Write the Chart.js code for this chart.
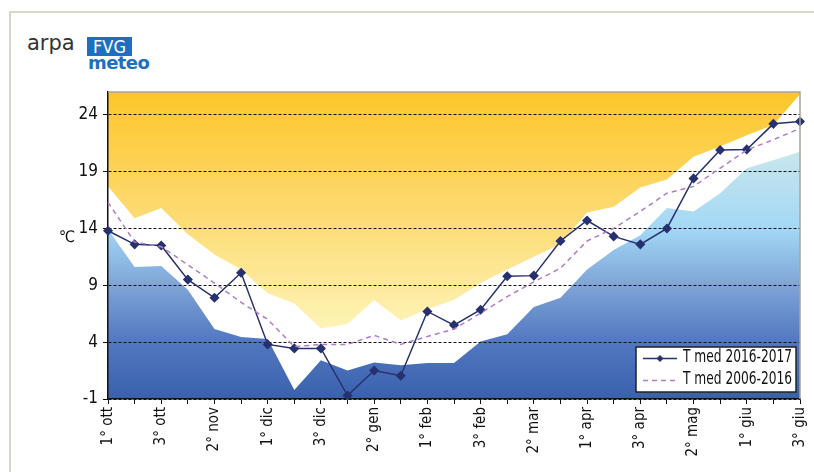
<!DOCTYPE html>
<html>
<head>
<meta charset="utf-8">
<script src="https://cdn.jsdelivr.net/npm/chart.js@4.4.1/dist/chart.umd.min.js"></script>
<style>
    html, body { margin: 0; padding: 0; background: #fff; }
    #wrap { position: relative; width: 814px; height: 472px; overflow: hidden; }
    #frame { position: absolute; left: 9px; top: 11px; right: -5px; bottom: -5px; border-left: 2px solid #dcd6c8; border-top: 2px solid #dcd6c8; }
    #logo-arpa { position: absolute; left: 27px; top: 31px; font: 21px 'DejaVu Sans', sans-serif; color: #333; letter-spacing: 0px; }
    #logo-fvg { position: absolute; left: 87px; top: 37px; width: 45px; height: 19px; background: #1f6fc1; color: #fff; font: 18px/19px 'DejaVu Sans Condensed', sans-serif; text-align: center; }
    #logo-meteo { position: absolute; left: 88px; top: 52px; color: #1f6fc1; font: bold 18px 'DejaVu Sans', sans-serif; letter-spacing: -0.6px; }
    canvas { position: absolute; left: 0; top: 0; }
</style>
</head>
<body>
<div id="wrap">
    <div id="frame"></div>
    <div id="logo-arpa">arpa</div>
    <div id="logo-fvg">FVG</div>
    <div id="logo-meteo">meteo</div>
    <canvas id="tempChart" width="814" height="472"></canvas>
</div>
<script>
// decadi da ottobre a giugno
const decadi = ['1° ott', '2° ott', '3° ott', '1° nov', '2° nov', '3° nov', '1° dic', '2° dic', '3° dic',
    '1° gen', '2° gen', '3° gen', '1° feb', '2° feb', '3° feb', '1° mar', '2° mar', '3° mar',
    '1° apr', '2° apr', '3° apr', '1° mag', '2° mag', '3° mag', '1° giu', '2° giu', '3° giu'];

const tMed2016_2017 = [13.8, 12.6, 12.5, 9.5, 7.9, 10.1, 3.8, 3.45, 3.45, -0.7, 1.5, 1.05, 6.7, 5.5, 6.85,
    9.8, 9.85, 12.9, 14.7, 13.3, 12.6, 14.0, 18.4, 20.9, 20.95, 23.2, 23.4];
const tMed2006_2016 = [16.3, 12.8, 12.4, 10.8, 9.2, 7.5, 6.0, 3.6, 3.8, 3.8, 4.6, 3.8, 4.5, 5.15, 6.55,
    8.0, 9.3, 10.5, 12.9, 14.0, 15.5, 17.1, 17.7, 19.3, 20.9, 21.8, 22.8];

// fascia di variabilità (bordo inferiore area arancio, bordo superiore area blu)
const limiteSup = [17.7, 14.9, 15.8, 13.5, 11.7, 10.4, 8.3, 7.4, 5.2, 5.6, 7.7, 5.9, 6.9, 7.7, 9.2,
    10.4, 11.5, 12.6, 15.4, 15.9, 17.6, 18.3, 20.3, 21.2, 22.2, 23.1, 25.8];
const limiteInf = [13.9, 10.6, 10.7, 8.6, 5.15, 4.45, 4.27, -0.2, 2.4, 1.5, 2.2, 1.96, 2.16, 2.16, 4.06,
    4.7, 7.1, 7.9, 10.4, 12.1, 13.4, 15.8, 15.5, 17.1, 19.3, 20.0, 20.75];

const yTicks = [-1, 4, 9, 14, 19, 24];

const fontFam = "'DejaVu Sans Condensed', 'Liberation Sans Narrow', Arial, sans-serif";
Chart.defaults.font.family = fontFam;
Chart.defaults.color = '#111';

function orangeGradient(context) {
    const { ctx, chartArea, scales } = context.chart;
    if (!chartArea) return '#fdc72a';
    const g = ctx.createLinearGradient(0, chartArea.top, 0, scales.y.getPixelForValue(3));
    g.addColorStop(0, '#fdc62a');
    g.addColorStop(0.45, '#fdd96f');
    g.addColorStop(1, '#fef9c6');
    return g;
}

function blueGradient(context) {
    const { ctx, chartArea } = context.chart;
    if (!chartArea) return '#3a61ad';
    const g = ctx.createLinearGradient(0, chartArea.bottom, 0, chartArea.top);
    g.addColorStop(0, '#3a61ad');
    g.addColorStop(0.185, '#5277c0');
    g.addColorStop(0.37, '#7ea4d7');
    g.addColorStop(0.556, '#a3d8f6');
    g.addColorStop(0.78, '#c4e5ec');
    g.addColorStop(1, '#d3ede9');
    return g;
}

// testo stretto (il font originale è condensato)
function narrowText(ctx, txt, x, y, sx) {
    ctx.save();
    ctx.translate(x, y);
    ctx.scale(sx, 1);
    ctx.fillText(txt, 0, 0);
    ctx.restore();
}

// legenda e simbolo dell'unità disegnati dentro il canvas
const extras = {
    id: 'extras',
    afterDraw(chart) {
        const ctx = chart.ctx;
        const area = chart.chartArea;
        ctx.save();
        // bordo grigio sopra e a destra
        ctx.strokeStyle = '#aaa49a';
        ctx.lineWidth = 1.5;
        ctx.beginPath();
        ctx.moveTo(area.left, area.top);
        ctx.lineTo(area.right, area.top);
        ctx.lineTo(area.right, area.bottom);
        ctx.stroke();

        ctx.fillStyle = '#111';
        ctx.font = '16px ' + fontFam;
        ctx.textAlign = 'center';
        ctx.textBaseline = 'middle';
        ctx.fillText('℃', 67, 238);

        // legenda
        const lx = 636, ly = 347, lw = 160, lh = 45;
        ctx.fillStyle = '#fff';
        ctx.fillRect(lx, ly, lw, lh);
        ctx.strokeStyle = '#222';
        ctx.lineWidth = 1.5;
        ctx.strokeRect(lx, ly, lw, lh);

        ctx.strokeStyle = '#27316f';
        ctx.lineWidth = 1.5;
        ctx.beginPath();
        ctx.moveTo(643, 358.5);
        ctx.lineTo(677, 358.5);
        ctx.stroke();
        ctx.fillStyle = '#27316f';
        ctx.beginPath();
        ctx.moveTo(660, 355);
        ctx.lineTo(663.5, 358.5);
        ctx.lineTo(660, 362);
        ctx.lineTo(656.5, 358.5);
        ctx.closePath();
        ctx.fill();

        ctx.strokeStyle = '#b07cc6';
        ctx.setLineDash([5, 4]);
        ctx.beginPath();
        ctx.moveTo(643, 380.5);
        ctx.lineTo(677, 380.5);
        ctx.stroke();
        ctx.setLineDash([]);

        ctx.fillStyle = '#111';
        ctx.font = '17px ' + fontFam;
        ctx.textAlign = 'left';
        narrowText(ctx, 'T med 2016-2017', 683, 358, 0.8);
        narrowText(ctx, 'T med 2006-2016', 683, 380, 0.8);
        ctx.restore();
    }
};

const ctx = document.getElementById('tempChart').getContext('2d');
new Chart(ctx, {
    type: 'line',
    data: {
        labels: decadi,
        datasets: [
            {
                label: 'limite superiore',
                data: limiteSup,
                fill: 'end',
                backgroundColor: orangeGradient,
                borderWidth: 0,
                pointRadius: 0
            },
            {
                label: 'limite inferiore',
                data: limiteInf,
                fill: 'start',
                backgroundColor: blueGradient,
                borderWidth: 0,
                pointRadius: 0
            },
            {
                label: 'T med 2006-2016',
                data: tMed2006_2016,
                borderColor: '#b07cc6',
                borderWidth: 1.5,
                borderDash: [5, 4],
                pointRadius: 0,
                fill: false
            },
            {
                label: 'T med 2016-2017',
                data: tMed2016_2017,
                borderColor: '#27316f',
                backgroundColor: '#27316f',
                borderWidth: 1.5,
                pointStyle: 'rectRot',
                pointRadius: 4,
                fill: false
            }
        ]
    },
    options: {
        responsive: false,
        animation: false,
        layout: { padding: { left: 0, right: 14, top: 92, bottom: 0 } },
        plugins: {
            legend: { display: false },
            tooltip: { enabled: false },
            filler: { drawTime: 'beforeDraw' }
        },
        scales: {
            x: {
                offset: false,
                grid: { display: true, drawOnChartArea: false, drawTicks: true, tickLength: 5, color: '#111' },
                border: { display: true, color: '#111', width: 1.5 },
                ticks: {
                    autoSkip: false,
                    maxRotation: 90,
                    minRotation: 90,
                    padding: 3,
                    font: { size: 15 },
                    callback: (val, i) => (i % 2 === 0 ? decadi[i] : '')
                },
                afterFit: scale => {
                    scale.height = 73;
                    scale.paddingLeft = 0;
                    scale.paddingRight = 0;
                }
            },
            y: {
                min: -1,
                max: 26,
                afterBuildTicks: scale => { scale.ticks = yTicks.map(v => ({ value: v })); },
                grid: { color: '#111', lineWidth: 1, tickLength: 5, drawTicks: true },
                border: { display: true, color: '#111', width: 1.5, dash: [3, 2] },
                ticks: { padding: 5, font: { size: 17 } },
                afterFit: scale => { scale.width = 108; }
            }
        }
    },
    plugins: [extras]
});
</script>
</body>
</html>
